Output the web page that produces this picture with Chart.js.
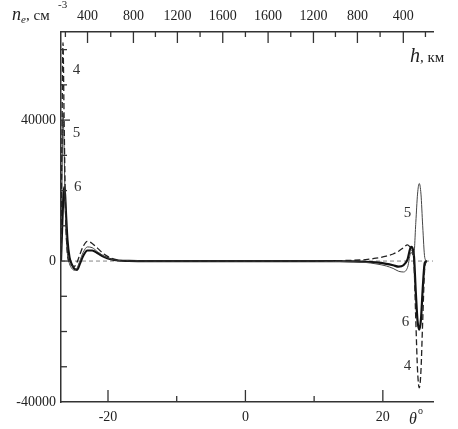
<!DOCTYPE html>
<html>
<head>
<meta charset="utf-8">
<script src="https://cdn.jsdelivr.net/npm/chart.js@4"></script>
<style>
  html, body { margin: 0; padding: 0; background: #fff; }
  #wrap { width: 458px; height: 429px; }
</style>
</head>
<body>
<div id="wrap"><canvas id="chart"></canvas></div>
<script>
// latitude, degrees
const theta = [-26.84, -26.7, -26.55, -26.4, -26.25, -26.1, -25.9, -25.6, -25.3, -24.9, -24.5, -24.1, -23.6, -23.0, -22.3, -21.5, -20.6, -19.6, -18.5, -17,
  -14, -10, -5, 0, 5, 10, 13, 15.5, 17.5, 19, 20.5, 21.5, 22.3, 23.0, 23.6, 24.1, 24.5, 24.8, 25.05, 25.3, 25.55, 25.8, 26.1, 26.4];
// n, cm^-3
const curve4 = [0, 35000, 62000, 42000, 22000, 9000, 2000, -500, -1200, -1500, -300, 1800, 4200, 5600, 5000, 3600, 2000, 900, 300, 100,
  0, 0, 0, 0, 0, 0, 100, 200, 400, 800, 1400, 2000, 2800, 3800, 4600, 3500, 500, -17000, -31000, -36000, -31000, -17000, -2000, 0];
const curve5 = [0, 22000, 42000, 33000, 18000, 8000, 2000, -800, -2000, -2600, -2000, 0, 2500, 4000, 3800, 2600, 1400, 600, 200, 50,
  0, 0, 0, 0, 0, 0, -100, -200, -400, -800, -1400, -2100, -2900, -3100, -1800, 2500, 1500, 11000, 19000, 22000, 19000, 10000, 1000, 0];
const curve6 = [0, 8000, 16000, 21000, 19000, 13000, 6000, 1000, -800, -2200, -2500, -800, 1500, 3000, 3000, 2200, 1200, 500, 150, 50,
  0, 0, 0, 0, 0, 0, -50, -100, -200, -400, -800, -1200, -1600, -1200, 500, 4000, 2000, -9000, -17000, -19500, -16500, -8000, -500, 0];

const thetaTicks = [-20, -10, 0, 10, 20];
const thetaLabels = ['-20', '', '0', '', '20'];
const nTicks = [-40000, -30000, -20000, -10000, 0, 10000, 20000, 30000, 40000, 50000, 60000];
const nLabels = ['-40000', '', '', '', '0', '', '', '', '40000', '', ''];
// height scale on top, placed at the latitude it corresponds to
const hTickTheta = [-26.2, -22.98, -19.6, -16.3, -13.1, -9.9, -6.6, -3.3, 0, 3.3, 6.6, 9.9, 13.1, 16.3, 19.6, 22.98, 26.2];
const hTickLabels = ['', '400', '', '800', '', '1200', '', '1600', '', '1600', '', '1200', '', '800', '', '400', ''];

const serif = '"Liberation Serif", "DejaVu Serif", serif';
Chart.defaults.font.family = serif;
Chart.defaults.font.size = 14;
Chart.defaults.color = '#222';

const toPoints = arr => theta.map((t, i) => ({ x: t, y: arr[i] }));

const inkPlugin = {
  id: 'ink',
  beforeDatasetsDraw(chart) {
    const { ctx, chartArea: a, scales: { y } } = chart;
    const y0 = y.getPixelForValue(0);
    ctx.save();
    ctx.strokeStyle = '#666';
    ctx.lineWidth = 0.8;
    ctx.setLineDash([4, 3]);
    ctx.beginPath(); ctx.moveTo(a.left, y0); ctx.lineTo(a.right, y0); ctx.stroke();
    ctx.restore();
  },
  afterDraw(chart) {
    const { ctx, chartArea: a, scales: { x, x2, y } } = chart;
    ctx.save();
    ctx.strokeStyle = '#333';
    ctx.lineWidth = 1.3;
    const line = (x1, y1, x3, y3) => { ctx.beginPath(); ctx.moveTo(x1, y1); ctx.lineTo(x3, y3); ctx.stroke(); };
    thetaTicks.forEach((v, i) => {
      const px = x.getPixelForValue(v);
      line(px, a.bottom, px, a.bottom - (thetaLabels[i] ? 12 : 6));
    });
    hTickTheta.forEach((v, i) => {
      const px = x2.getPixelForValue(v);
      line(px, a.top, px, a.top + (hTickLabels[i] ? 11 : 5));
    });
    nTicks.forEach((v, i) => {
      const py = y.getPixelForValue(v);
      if (v === -40000) return;
      line(a.left, py, a.left + (nLabels[i] ? 9 : 6), py);
    });

    // curve numbers
    ctx.fillStyle = '#333';
    ctx.font = '15px ' + serif;
    ctx.textAlign = 'center';
    ctx.textBaseline = 'middle';
    [['4', -24.6, 54200], ['5', -24.6, 36300], ['6', -24.4, 21000],
     ['5', 23.6, 13600], ['6', 23.3, -17300], ['4', 23.6, -29800]].forEach(([t, tx, ty]) => {
      ctx.fillText(t, x.getPixelForValue(tx), y.getPixelForValue(ty));
    });

    // axis titles
    ctx.fillStyle = '#222';
    ctx.textAlign = 'left';
    ctx.textBaseline = 'alphabetic';
    ctx.font = 'italic 18px ' + serif;
    ctx.fillText('n', 12, 20);
    ctx.font = 'italic 11px ' + serif;
    ctx.fillText('e', 21, 23);
    ctx.font = '15px ' + serif;
    ctx.fillText(', см', 26, 20);
    ctx.font = '11px ' + serif;
    ctx.fillText('-3', 58, 8);

    ctx.font = 'italic 20px ' + serif;
    ctx.fillText('h', 410, 62);
    ctx.font = '15px ' + serif;
    ctx.fillText(', км', 420, 62);

    ctx.font = 'italic 16px ' + serif;
    ctx.fillText('θ', 409, 424);
    ctx.font = '10px ' + serif;
    ctx.fillText('o', 418, 414);
    ctx.restore();
  }
};

new Chart(document.getElementById('chart'), {
  type: 'line',
  data: {
    datasets: [
      { label: '4', data: toPoints(curve4), borderColor: '#222', borderWidth: 1.3, borderDash: [6, 3] },
      { label: '5', data: toPoints(curve5), borderColor: '#444', borderWidth: 1 },
      { label: '6', data: toPoints(curve6), borderColor: '#111', borderWidth: 2.2 }
    ]
  },
  options: {
    responsive: true,
    maintainAspectRatio: false,
    animation: false,
    elements: { point: { radius: 0 }, line: { cubicInterpolationMode: 'monotone', fill: false } },
    layout: { padding: { right: 25 } },
    plugins: { legend: { display: false }, tooltip: { enabled: false } },
    scales: {
      x: {
        type: 'linear', position: 'bottom', min: -26.84, max: 27.3,
        afterFit: s => { s.height = 27; },
        afterBuildTicks: s => { s.ticks = thetaTicks.map(v => ({ value: v })); },
        grid: { display: false, drawTicks: false },
        border: { display: true, color: '#333', width: 1.5 },
        ticks: { autoSkip: false, maxRotation: 0, padding: 7, callback: (v, i) => thetaLabels[i] }
      },
      x2: {
        type: 'linear', position: 'top', min: -26.84, max: 27.3,
        afterFit: s => { s.height = 32; },
        afterBuildTicks: s => { s.ticks = hTickTheta.map(v => ({ value: v })); },
        grid: { display: false, drawTicks: false },
        border: { display: true, color: '#333', width: 1.5 },
        ticks: { autoSkip: false, maxRotation: 0, padding: 7, callback: (v, i) => hTickLabels[i] }
      },
      y: {
        type: 'linear', min: -40000, max: 65000,
        afterFit: s => { s.width = 61; },
        afterBuildTicks: s => { s.ticks = nTicks.map(v => ({ value: v })); },
        grid: { display: false, drawTicks: false },
        border: { display: true, color: '#333', width: 1.5 },
        ticks: { autoSkip: false, padding: 5, callback: (v, i) => nLabels[i] }
      }
    }
  },
  plugins: [inkPlugin]
});
</script>
</body>
</html>
